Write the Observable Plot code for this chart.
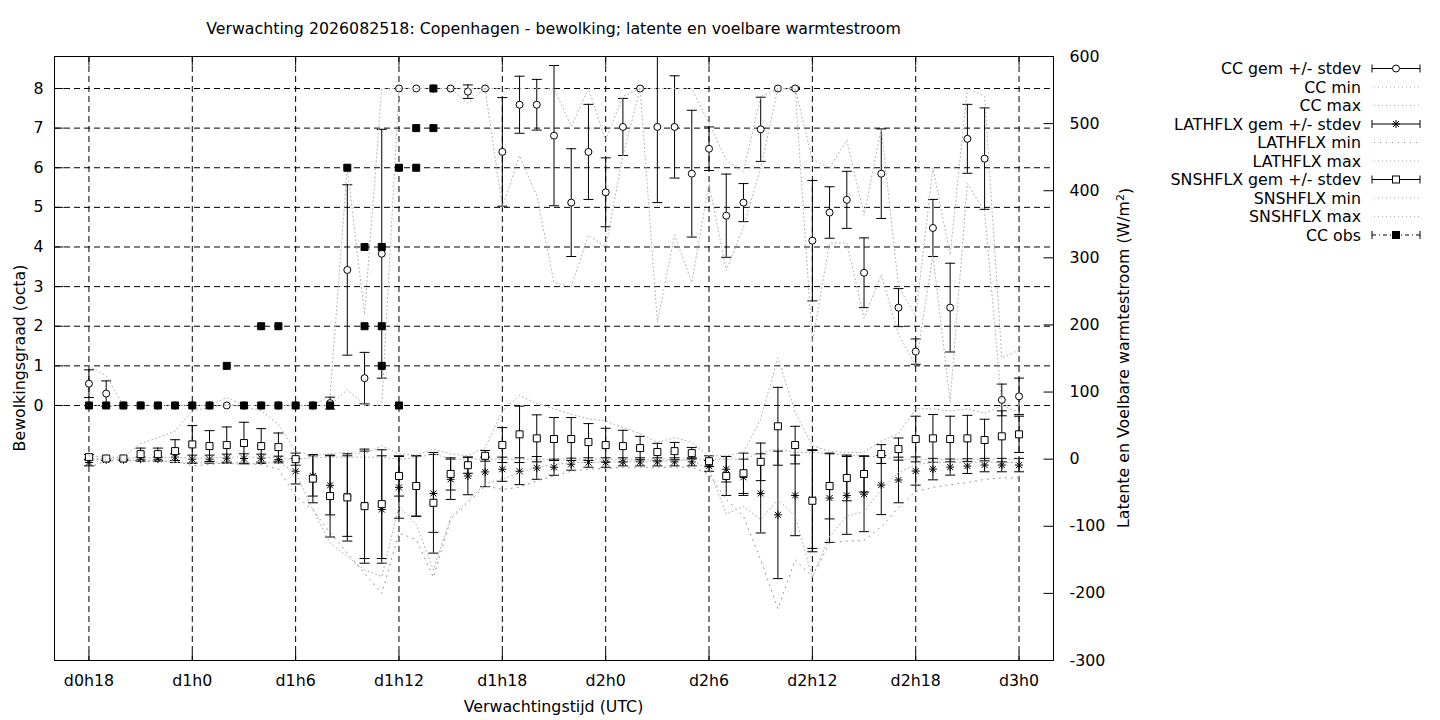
<!DOCTYPE html>
<html><head><meta charset="utf-8">
<script src="https://cdn.jsdelivr.net/npm/d3@7"></script>
<script src="https://cdn.jsdelivr.net/npm/@observablehq/plot@0.6"></script>
<style>html,body{margin:0;padding:0;background:#fff;} svg{display:block;}</style>
</head><body><div id="chart"></div>
<script>
// ---------- data (hours after d0h0) ----------
const hours = [18,19,20,21,22,23,24,25,26,27,28,29,30,31,32,33,34,35,36,37,38,39,40,41,42,43,44,45,46,47,48,49,50,51,52,53,54,55,56,57,58,59,60,61,62,63,64,65,66,67,68,69,70,71,72];

// cloud cover (octa)
const ccMean = [0.55,0.30,0,0,0,0,0,0,0,0,0,0,0,0, 0.06,3.42,0.69,3.83,8,8,8,8,7.92,8, 6.40,7.59,7.59,6.81,5.12,6.40,5.38,7.03,8,7.03, 7.03,5.85,6.48,4.79,5.12,6.97,8,8,4.16,4.87, 5.19,3.35,5.85,2.47,1.36,4.48,2.47,6.73,6.23,0.14,0.23];
const ccSd   = [0.35,0.32,0,0,0,0,0,0,0,0,0,0,0,0, 0.15,2.15,0.65,3.14,0,0,0,0,0.17,0, 1.37,0.72,0.64,1.77,1.36,1.20,0.87,0.72,0,1.91, 1.29,1.60,0.55,1.05,0.48,0.81,0,0.03,1.52,0.65, 0.72,0.88,1.13,0.48,0.32,0.72,1.12,0.87,1.28,0.40,0.46];
const ccMin  = [0,0,0,0,0,0,0,0,0,0,0,0,0,0, 0,0.4,0,0,8,8,8,8,7.63,8, 5.0,6.3,5.3,3.1,3.0,4.3,4.0,6.3,8,2.1, 4.3,3.1,5.6,3.4,4.5,6.0,8,8,1.6,4.1, 4.1,2.2,3.3,1.8,1.0,3.8,0.1,5.6,4.9,0,0];
const ccMax  = [1.0,0.75,0,0,0,0,0,0,0.2,0,0,0,0,0, 0.25,6.0,2.3,8,8,8,8,8,8,8, 8,8,8,8,7.04,8,6.7,7.8,8,8, 8,8,7.12,6.2,5.9,7.8,8,8,6.2,6.0, 6.7,4.8,7.0,3.0,2.25,6.0,3.8,8,7.8,1.2,1.4];

// observed cloud cover (octa)
const obsHours  = [18,19,20,21,22,23,24,25,26,27,28,28,29,29,30,31,32,33,34,34,35,35,35,36,36,37,37,38,38];
const obsValues = [0,0,0,0,0,0,0,0,1,0,0,2,0,2,0,0,0,6,4,2,4,2,1,6,0,7,6,8,7];

// latent heat flux (W/m2)
const latMean = [-5,-1,-1,0,0,3,0,0,1.5,1,1.5,-0.5,-18,-25, -39,-55,-68,-75,-42,-40,-51,-30,-25,-19, -15,-18,-13,-12,-7.5,-5,-5,-4,-4,-4, -4,-4,-10,-15,-27,-51,-83,-54,-60,-58, -54,-52,-38.6,-31,-17.7,-14.8,-11.8,-10.3,-8.8,-8.8,-8.8];
const latSd   = [5,1,1,3,3,5,6,6,6,7,6,5,19,30, 44,60,80,80,46,45,58,30,28,22, 18,20,17,12,9,7,7,6,6,6, 6,6,8,19,27,59,95,60,73,66, 58,56,44,34,21,16,12,11,10,10,10];
const latMin  = [-12,-3,-2,-3,-4,-2,-10,-8,-5,-6,-8,-15,-55,-75, -110,-140,-170,-200,-110,-120,-176,-90,-65,-40, -45,-42,-32,-25,-18,-15,-14,-12,-12,-12, -12,-12,-22,-60,-85,-150,-223,-150,-175,-125, -122,-121,-101,-72,-48,-42,-38,-35,-30,-28,-28];
const latMax  = [0,2,2,2,2,3,2,2,3,3,3,2,0,2, 3,3,3,3,0,2,8,0,0,0, 0,0,0,0,0,0,0,0,0,0, 0,0,0,0,0,10,15,10,10,8, 6,5,3,0,0,0,0,0,0,0,0];

// sensible heat flux (W/m2)
const snsMean = [3,1,1,7.5,7.5,12,22,19.5,21,24,19.5,18,0,-29, -55,-57,-70,-67,-25,-40,-65,-22,-9,5, 21,37,31,30,30,25.5,21,19.5,16.5,10.6, 12,9,-3,-25,-21,-4,49,21,-62,-40, -28,-22,7.6,15,30,31,30,31,28.5,34,37];
const snsSd   = [4,0,0,9,9,17,28,23,27,31,26,21,9,36, 61,65,85,81,30,45,75,24,12,8, 26,42,35,32,32,27.5,25,23.5,17.5,13, 13,8.5,8,29,30,28,58,28,76,49, 34,27,14,16.5,34,35.6,34,34.3,31,38,27];
const snsMin  = [0,-1,-1,-2,-2,-5,-6,-5,-6,-8,-6,-4,-20,-75, -125,-145,-165,-175,-70,-97,-165,-87,-62,-37, -30,-20,-12,-8,-5,-5,-4,-4,-3,-3, -2,-2,-15,-82,-70,-90,-60,-85,-176,-115, -85,-78,-45,-20,-8,-5,-5,-5,-4,-5,-5];
const snsMax  = [5,3,3,23,32,42,72,77,82,78,72,52,12,5, 8,10,8,20,8,6,15,8,5,17, 72,95,83,75,67,60,57,47,38,25, 32,25,5,5,10,60,151,70,20,12, 10,10,27,38,75,75,72,75,68,80,70];

// axes
const xTickHours  = [18,24,30,36,42,48,54,60,66,72];
const xTickLabels = ["d0h18","d1h0","d1h6","d1h12","d1h18","d2h0","d2h6","d2h12","d2h18","d3h0"];
const octaTicks   = [0,1,2,3,4,5,6,7,8];
const fluxTicks   = [-300,-200,-100,0,100,200,300,400,500,600];

const titleText = "Verwachting 2026082518: Copenhagen - bewolking; latente en voelbare warmtestroom";
const xLabel = "Verwachtingstijd (UTC)";
const yLabelLeft = "Bewolkingsgraad (octa)";
const yLabelRight = "Latente en Voelbare warmtestroom (W/m";
const legendLabels = ["CC gem +/- stdev","CC min","CC max","LATHFLX gem +/- stdev","LATHFLX min","LATHFLX max","SNSHFLX gem +/- stdev","SNSHFLX min","SNSHFLX max","CC obs"];

// ---------- helpers ----------
const FS = "15.8px";
const W = o => 80 + o * 59.04;            // octa -> position on W/m2 axis (dual axis)
const Y0 = -300, Y1 = 600;
const clampW = w => Math.max(Y0, Math.min(Y1, w));
const inside = w => w >= Y0 && w <= Y1;

const rows = hours.map((h, i) => ({
  h,
  cc: W(ccMean[i]), ccLo: W(ccMean[i] - ccSd[i]), ccHi: W(ccMean[i] + ccSd[i]), ccSd: ccSd[i],
  ccMin: W(ccMin[i]), ccMax: W(ccMax[i]),
  lat: latMean[i], latLo: latMean[i] - latSd[i], latHi: latMean[i] + latSd[i], latSd: latSd[i],
  latMin: latMin[i], latMax: latMax[i],
  sns: snsMean[i], snsLo: snsMean[i] - snsSd[i], snsHi: snsMean[i] + snsSd[i], snsSd: snsSd[i],
  snsMin: snsMin[i], snsMax: snsMax[i]
}));
const obs = obsHours.map((h, i) => ({h, v: W(obsValues[i])}));

const capSym = {draw(c) { c.moveTo(-5, 0); c.lineTo(5, 0); }};
const starSym = {draw(c) {
  c.moveTo(-4, 0); c.lineTo(4, 0); c.moveTo(0, -4); c.lineTo(0, 4);
  c.moveTo(-3, -3); c.lineTo(3, 3); c.moveTo(-3, 3); c.lineTo(3, -3);
}};
const sqSym = {draw(c) { c.rect(-3.5, -3.5, 7, 7); }};
const tickL = {draw(c) { c.moveTo(0, 0); c.lineTo(-10, 0); }};
const tickR = {draw(c) { c.moveTo(0, 0); c.lineTo(9, 0); }};
const tickU = {draw(c) { c.moveTo(0, 0); c.lineTo(0, -9); }};
const tickD = {draw(c) { c.moveTo(0, 0); c.lineTo(0, 9); }};

function errorBars(lo, hi, sd) {
  const d = rows.filter(r => r[sd] > 0);
  return [
    Plot.ruleX(d, {x: "h", y1: r => clampW(r[lo]), y2: r => clampW(r[hi]), stroke: "black", strokeWidth: 1}),
    Plot.dot(d.filter(r => inside(r[lo])), {x: "h", y: lo, symbol: capSym, stroke: "black", strokeWidth: 1, fill: "none"}),
    Plot.dot(d.filter(r => inside(r[hi])), {x: "h", y: hi, symbol: capSym, stroke: "black", strokeWidth: 1, fill: "none"})
  ];
}
const DOT_COLOR = "#b0b0b0";
const dotted = (key, extra = {}) => Plot.line(rows, {x: "h", y: key, stroke: DOT_COLOR, strokeWidth: 1, strokeDasharray: "1,3", ...extra});

const grid = "6,4";

const plot = Plot.plot({
  width: 1440,
  height: 720,
  marginLeft: 54,
  marginRight: 387,
  marginTop: 56,
  marginBottom: 60,
  style: {fontFamily: "'DejaVu Sans', sans-serif", fontSize: FS, background: "white", color: "black"},
  x: {domain: [16, 74]},
  y: {domain: [Y0, Y1]},
  marks: [
    // grid
    Plot.ruleY(octaTicks, {y: o => W(o), stroke: "black", strokeWidth: 1, strokeDasharray: grid}),
    Plot.ruleX(xTickHours, {x: h => h, stroke: "black", strokeWidth: 1, strokeDasharray: grid}),
    // axes
    Plot.axisX(xTickHours, {anchor: "bottom", tickSize: 0, tickPadding: 14, label: null,
      tickFormat: h => xTickLabels[xTickHours.indexOf(h)]}),
    Plot.axisY(octaTicks.map(W), {anchor: "left", tickSize: 0, tickPadding: 11, label: null,
      tickFormat: w => String(octaTicks[octaTicks.map(W).indexOf(w)])}),
    Plot.axisY(fluxTicks, {anchor: "right", tickSize: 0, tickPadding: 16, label: null, tickFormat: d => String(d)}),
    Plot.dot(fluxTicks, {y: d => d, frameAnchor: "right", symbol: tickL, stroke: "black", strokeWidth: 1}),
    Plot.dot(octaTicks, {y: o => W(o), frameAnchor: "left", symbol: tickR, stroke: "black", strokeWidth: 1}),
    Plot.dot(xTickHours, {x: h => h, frameAnchor: "bottom", symbol: tickU, stroke: "black", strokeWidth: 1}),
    Plot.dot(xTickHours, {x: h => h, frameAnchor: "top", symbol: tickD, stroke: "black", strokeWidth: 1}),
    // CC mean +/- stdev
    ...errorBars("ccLo", "ccHi", "ccSd"),
    Plot.dot(rows, {x: "h", y: "cc", r: 3.5, fill: "white", stroke: "black", strokeWidth: 1}),
    dotted("ccMin"),
    dotted("ccMax"),
    // LATHFLX
    ...errorBars("latLo", "latHi", "latSd"),
    Plot.dot(rows, {x: "h", y: "lat", symbol: starSym, stroke: "black", strokeWidth: 1, fill: "none"}),
    dotted("latMin", {stroke: "#909090", strokeDasharray: "1,5"}),
    dotted("latMax"),
    // SNSHFLX
    ...errorBars("snsLo", "snsHi", "snsSd"),
    Plot.dot(rows, {x: "h", y: "sns", symbol: sqSym, stroke: "black", strokeWidth: 1, fill: "white"}),
    dotted("snsMin"),
    dotted("snsMax"),
    // observations
    Plot.dot(obs, {x: "h", y: "v", symbol: sqSym, fill: "black", stroke: "black", strokeWidth: 1}),
    Plot.frame({stroke: "black", strokeWidth: 1})
  ]
});

document.getElementById("chart").appendChild(plot);

// ---------- titles, labels and legend ----------
const svg = d3.select(plot);
const txt = (x, y, s, anchor) => svg.append("text").attr("x", x).attr("y", y)
  .attr("text-anchor", anchor).attr("fill", "black").style("font-size", FS).text(s);

txt(553.5, 34, titleText, "middle");
txt(553.5, 712, xLabel, "middle");
svg.append("text").attr("transform", "translate(25,358) rotate(-90)")
  .attr("text-anchor", "middle").attr("fill", "black").style("font-size", FS).text(yLabelLeft);
const rl = svg.append("text").attr("transform", "translate(1129,358) rotate(-90)")
  .attr("text-anchor", "middle").attr("fill", "black").style("font-size", FS);
rl.append("tspan").text(yLabelRight);
rl.append("tspan").attr("dy", "-0.45em").style("font-size", "11px").text("2");
rl.append("tspan").attr("dy", "0.45em").text(")");

const lx0 = 1372, lx1 = 1420, lxm = 1396, textRight = 1361;
legendLabels.forEach((label, i) => {
  const y = 68.5 + i * 18.5;
  txt(textRight, y + 5.5, label, "end");
  const g = svg.append("g").attr("stroke", "black").attr("stroke-width", 1).attr("fill", "none");
  const bar = (dash) => {
    g.append("line").attr("x1", lx0).attr("x2", lx1).attr("y1", y).attr("y2", y).attr("stroke-dasharray", dash || null);
    g.append("line").attr("x1", lx0).attr("x2", lx0).attr("y1", y - 4).attr("y2", y + 4);
    g.append("line").attr("x1", lx1).attr("x2", lx1).attr("y1", y - 4).attr("y2", y + 4);
  };
  const dots = (stroke, dash) => g.append("line").attr("x1", lx0 + 2).attr("x2", lx1).attr("y1", y).attr("y2", y)
    .attr("stroke", stroke).attr("stroke-dasharray", dash);
  if (i === 0) { bar(); g.append("circle").attr("cx", lxm).attr("cy", y).attr("r", 3.5).attr("fill", "white"); }
  else if (i === 3) { bar(); g.append("path").attr("transform", `translate(${lxm},${y})`).attr("d", "M-4,0H4M0,-4V4M-3,-3L3,3M-3,3L3,-3"); }
  else if (i === 6) { bar(); g.append("rect").attr("x", lxm - 3.5).attr("y", y - 3.5).attr("width", 7).attr("height", 7).attr("fill", "white"); }
  else if (i === 9) { bar("4,3,1,3"); g.append("rect").attr("x", lxm - 3.5).attr("y", y - 3.5).attr("width", 7).attr("height", 7).attr("fill", "black"); }
  else if (i === 4) { dots("#909090", "1,5"); }
  else { dots(DOT_COLOR, "1,3"); }
});
</script>
</body></html>
